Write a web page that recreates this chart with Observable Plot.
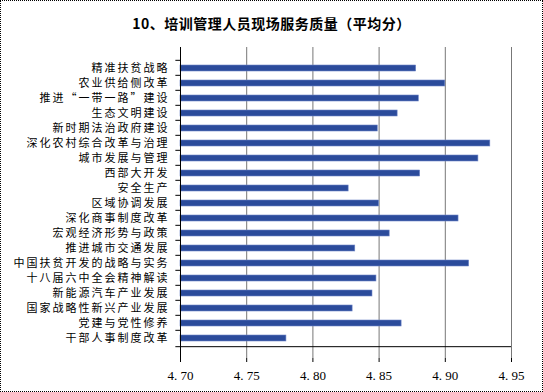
<!DOCTYPE html>
<html><head><meta charset="utf-8">
<script src="https://cdn.jsdelivr.net/npm/d3@7"></script>
<script src="https://cdn.jsdelivr.net/npm/@observablehq/plot@0.6"></script>
<style>
html,body{margin:0;padding:0;background:#fff;}
#wrap{position:relative;width:541px;height:390px;border:1px dotted #000;overflow:hidden;}
#title{height:39px;line-height:44px;text-align:center;font-family:"Noto Sans CJK SC",sans-serif;font-weight:bold;font-size:14px;color:#000;letter-spacing:0.5px;}
</style></head>
<body><div id="wrap"><div id="title">10、培训管理人员现场服务质量（平均分）</div><div id="chart"></div></div>
<script>
const categories = ["精准扶贫战略","农业供给侧改革","推进“一带一路”建设","生态文明建设","新时期法治政府建设","深化农村综合改革与治理","城市发展与管理","西部大开发","安全生产","区域协调发展","深化商事制度改革","宏观经济形势与政策","推进城市交通发展","中国扶贫开发的战略与实务","十八届六中全会精神解读","新能源汽车产业发展","国家战略性新兴产业发展","党建与党性修养","干部人事制度改革"];
const values = [4.878,4.900,4.880,4.864,4.849,4.934,4.925,4.881,4.827,4.850,4.910,4.858,4.832,4.918,4.848,4.845,4.830,4.867,4.780];
const xTicks = [4.70,4.75,4.80,4.85,4.90,4.95];
const data = categories.map((c,i)=>({cat:c, v:values[i]}));

const H = 352, mt = 7, mb = 34;
const step = (H - mt - mb) / categories.length;
const fmt = d => d.toFixed(2).replace(".", ". ");
const chart = Plot.plot({
  width: 541, height: H,
  marginLeft: 179, marginRight: 31, marginTop: mt, marginBottom: mb,
  style: {fontFamily: "'Noto Sans CJK SC', sans-serif", fontSize: "11px", color: "#000", background: "#fff"},
  x: {domain: [4.70, 4.95], label: null},
  y: {domain: categories, padding: 0.6, label: null},
  marks: [
    Plot.ruleX(xTicks.slice(1), {stroke: "#777", strokeWidth: 1}),
    Plot.barX(data, {y: "cat", x1: 4.70, x2: "v", fill: "#2b4b9b", stroke: "#6f86c8", strokeWidth: 0.6}),
    Plot.ruleY(categories, {y: d => d, x1: 4.6965, x2: 4.70, dy: -step/2, stroke: "#000"}),
    Plot.ruleY(categories.slice(-1), {y: d => d, x1: 4.6965, x2: 4.70, dy: step/2, stroke: "#000"}),
    Plot.ruleX([4.70], {stroke: "#000"}),
    Plot.ruleY([categories[categories.length-1]], {dy: step/2, stroke: "#000"}),
    Plot.axisX({ticks: xTicks, tickFormat: fmt, tickSize: 4, tickPadding: 8, fontFamily: "'Liberation Serif', serif", fontSize: 13, anchor: "bottom"}),
    Plot.axisY({tickSize: 0, tickPadding: 11, fontSize: 11, anchor: "left"})
  ]
});
chart.querySelectorAll('g[aria-label="y-axis tick label"] text').forEach(t => t.setAttribute("letter-spacing", "2"));
document.getElementById("chart").appendChild(chart);
</script></body></html>
